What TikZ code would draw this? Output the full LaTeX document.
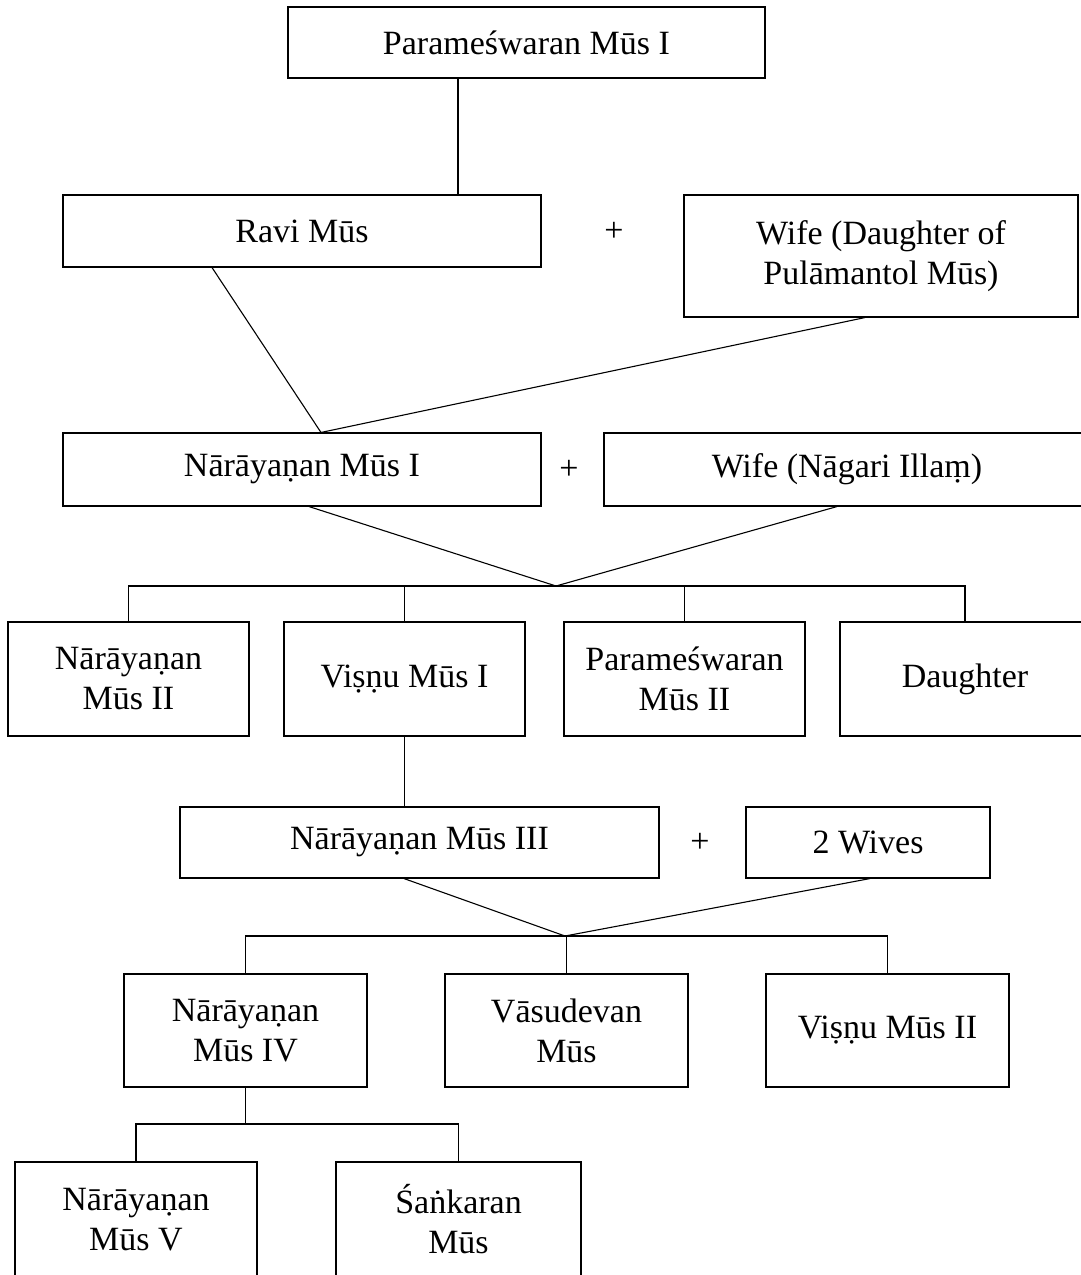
\documentclass[tikz,border=0pt]{standalone}
\usepackage{fontspec}
\setmainfont{Liberation Serif}
\usetikzlibrary{calc}
\begin{document}
\begin{tikzpicture}[x=1pt,y=-1pt,
  person/.style={draw, line width=1.1pt, rectangle, inner sep=0pt, align=center,
    font=\fontsize{34}{40}\selectfont},
  link/.style={line width=1.1pt},
  plus/.style={inner sep=0pt, font=\fontsize{34}{40}\selectfont}]
\useasboundingbox (0,0) rectangle (1080,1275);

% generation 1
\node[person, minimum width=477pt, minimum height=71pt] (p1) at (526.5,42.5) {Parameśwaran Mūs I};

% generation 2
\node[person, minimum width=478pt, minimum height=72pt] (ravi) at (302,231) {Ravi Mūs};
\node[plus] (plus1) at (614,232) {+};
\node[person, minimum width=394pt, minimum height=122pt] (wife1) at (881,256) {Wife (Daughter of\\Pulāmantol Mūs)};

% generation 3
\node[person, minimum width=478pt, minimum height=73pt] (n1) at (302,469.5) {Nārāyaṇan Mūs I};
\node[plus] (plus2) at (569,470) {+};
\node[person, minimum width=486pt, minimum height=73pt] (wife2) at (847,469.5) {Wife (Nāgari Illaṃ)};
\coordinate (j1) at (556,586);

% generation 4
\node[person, minimum width=241pt, minimum height=114pt] (n2) at (128.5,679) {Nārāyaṇan\\Mūs II};
\node[person, minimum width=241pt, minimum height=114pt] (v1) at (404.5,679) {Viṣṇu Mūs I};
\node[person, minimum width=241pt, minimum height=114pt] (p2) at (684.5,679) {Parameśwaran\\Mūs II};
\node[person, minimum width=250pt, minimum height=114pt] (dau) at (965,679) {Daughter};

% generation 5
\node[person, minimum width=479pt, minimum height=71pt] (n3) at (419.5,842.5) {Nārāyaṇan Mūs III};
\node[plus] (plus3) at (700,843) {+};
\node[person, minimum width=244pt, minimum height=71pt] (wives) at (868,842.5) {2 Wives};
\coordinate (j2) at (565,936);

% generation 6
\node[person, minimum width=243pt, minimum height=113pt] (n4) at (245.5,1030.5) {Nārāyaṇan\\Mūs IV};
\node[person, minimum width=243pt, minimum height=113pt] (vasu) at (566.5,1030.5) {Vāsudevan\\Mūs};
\node[person, minimum width=243pt, minimum height=113pt] (v2) at (887.5,1030.5) {Viṣṇu Mūs II};
\coordinate (j3) at (245.5,1124);

% generation 7
\node[person, minimum width=242pt, minimum height=115pt] (n5) at (136,1219.5) {Nārāyaṇan\\Mūs V};
\node[person, minimum width=245pt, minimum height=115pt] (sank) at (458.5,1219.5) {Śaṅkaran\\Mūs};

% descent lines
\draw[link] ([xshift=-68.5pt]p1.south) -- ([xshift=156pt]ravi.north);
\draw[link] ([xshift=-90pt]ravi.south) -- ([xshift=19pt]n1.north);
\draw[link] ([xshift=-16pt]wife1.south) -- ([xshift=19pt]n1.north);

\draw[link] ([xshift=7pt]n1.south) -- (j1);
\draw[link] ([xshift=-10pt]wife2.south) -- (j1);
\draw[link] (n2.north) |- (j1) -| (dau.north);
\draw[link] (v1.north) -- (v1.north |- j1);
\draw[link] (p2.north) -- (p2.north |- j1);

\draw[link] (v1.south) -- (v1.south |- n3.north);
\draw[link] ([xshift=-15.5pt]n3.south) -- (j2);
\draw[link] ([xshift=2pt]wives.south) -- (j2);
\draw[link] (n4.north) |- (j2) -| (v2.north);
\draw[link] (vasu.north) -- (vasu.north |- j2);

\draw[link] (n4.south) -- (j3);
\draw[link] (n5.north) |- (j3) -| (sank.north);
\end{tikzpicture}
\end{document}
